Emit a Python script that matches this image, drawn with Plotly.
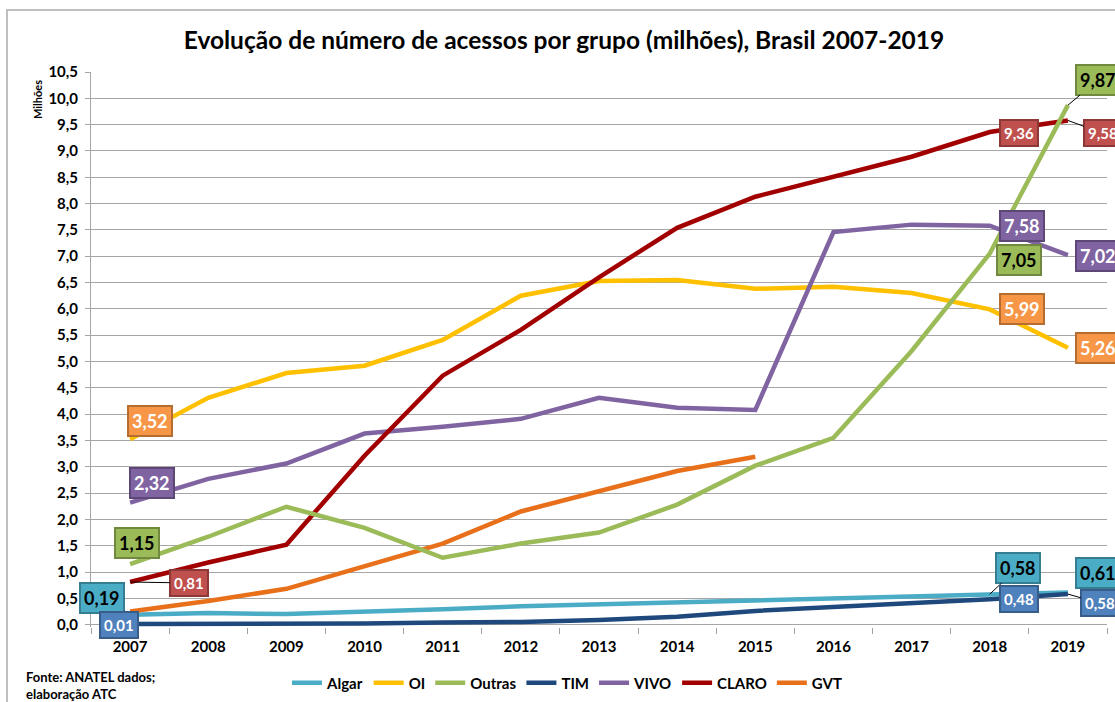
import plotly.graph_objects as go

years = [str(y) for y in range(2007, 2020)]
algar = [0.19, 0.22, 0.20, 0.24, 0.29, 0.35, 0.39, 0.42, 0.46, 0.50, 0.54, 0.58, 0.61]
oi = [3.52, 4.31, 4.78, 4.92, 5.41, 6.25, 6.53, 6.55, 6.38, 6.42, 6.30, 5.99, 5.26]
outras = [1.15, 1.67, 2.24, 1.84, 1.27, 1.54, 1.75, 2.28, 3.02, 3.55, 5.20, 7.05, 9.87]
tim = [0.01, 0.01, 0.01, 0.02, 0.04, 0.05, 0.09, 0.15, 0.26, 0.33, 0.42, 0.48, 0.58]
vivo = [2.32, 2.77, 3.06, 3.63, 3.76, 3.91, 4.31, 4.12, 4.08, 7.46, 7.60, 7.58, 7.02]
claro = [0.81, 1.18, 1.52, 3.21, 4.73, 5.60, 6.60, 7.54, 8.13, 8.52, 8.89, 9.36, 9.58]
gvt = [0.25, 0.45, 0.68, 1.10, 1.54, 2.15, 2.54, 2.92, 3.19, None, None, None, None]

series = {
    "Algar": (algar, "#4BACC6", 1),
    "OI": (oi, "#FFC000", 2),
    "Outras": (outras, "#9BBB59", 3),
    "TIM": (tim, "#1F497D", 4),
    "VIVO": (vivo, "#8064A2", 5),
    "CLARO": (claro, "#A20000", 6),
    "GVT": (gvt, "#E8701A", 7),
}
draw_order = ["Algar", "OI", "TIM", "VIVO", "CLARO", "GVT", "Outras"]

FONT = "Lato"

fig = go.Figure()
for name in draw_order:
    vals, col, rank = series[name]
    fig.add_trace(go.Scatter(
        x=years, y=vals, name=name, mode="lines",
        line=dict(color=col, width=4.5),
        legendrank=rank, connectgaps=False,
    ))

# label box styles
box = {
    "orange": ("#F79646", "#B66D31", "white"),
    "purple": ("#8064A2", "#5C4776", "white"),
    "green": ("#9BBB59", "#71893F", "black"),
    "red": ("#C0504D", "#8C3836", "white"),
    "teal": ("#4BACC6", "#357D91", "black"),
    "blue": ("#4F81BD", "#385D8A", "white"),
}

# (series, index, style, font size, arrow?, dx, dy)  dx,dy screen offsets (dy down)
labels = [
    ("OI", 0, "orange", 18, False, 20, -18),
    ("VIVO", 0, "purple", 18, False, 22, -20),
    ("Outras", 0, "green", 18, False, 7, -21),
    ("CLARO", 0, "red", 15, True, 59, 1),
    ("Algar", 0, "teal", 18, True, -28, -17),
    ("TIM", 0, "blue", 15, False, -11, 1),
    ("CLARO", 11, "red", 15, False, 29, 1),
    ("CLARO", 12, "red", 15, True, 35, 13),
    ("Outras", 12, "green", 18, True, 30, -25),
    ("VIVO", 11, "purple", 18, False, 32, 0),
    ("Outras", 11, "green", 18, False, 29, 6),
    ("VIVO", 12, "purple", 18, False, 30, 1),
    ("OI", 11, "orange", 18, False, 32, 0),
    ("OI", 12, "orange", 18, False, 30, 0),
    ("Algar", 11, "teal", 18, True, 28, -26),
    ("TIM", 11, "blue", 15, False, 29, 0),
    ("Algar", 12, "teal", 18, False, 30, -20),
    ("TIM", 12, "blue", 15, True, 32, 9),
]

annotations = []
for name, i, style, fs, arrow, dx, dy in labels:
    v = series[name][0][i]
    fill, border, tcol = box[style]
    txt = "<b>" + f"{v:.2f}".replace(".", ",") + "</b>"
    a = dict(
        x=i, y=v, xref="x", yref="y", text=txt,
        font=dict(family=FONT, size=fs, color=tcol),
        bgcolor=fill, bordercolor=border, borderwidth=2, borderpad=3,
    )
    if arrow:
        a.update(showarrow=True, arrowhead=0, arrowwidth=1, arrowcolor="black",
                 ax=dx, ay=dy, axref="pixel", ayref="pixel", standoff=0)
    else:
        a.update(showarrow=False, xshift=dx, yshift=-dy)
    annotations.append(a)

L, R, T, B = 91, 8, 72, 75
W, H = 1115, 702
pw, ph = W - L - R, H - T - B

def px2paper(px, py):
    return (px - L) / pw, (H - B - py) / ph

mx, my = px2paper(37, 100)
annotations.append(dict(
    text="<b>Milhões</b>", textangle=-90, x=mx, y=my,
    xref="paper", yref="paper", xanchor="center", yanchor="middle", showarrow=False,
    font=dict(family=FONT, size=11, color="black"),
))
fx, fy = px2paper(24, 685)
annotations.append(dict(
    text="<b>Fonte: ANATEL dados;<br>elaboração ATC</b>", x=fx, y=fy,
    xref="paper", yref="paper", xanchor="left", yanchor="middle", align="left", showarrow=False,
    font=dict(family=FONT, size=13, color="black"),
))

bx0, by0 = px2paper(7, 702)
bx1, by1 = px2paper(7, 10)
bx2, _ = px2paper(1115, 10)
shapes = [dict(type="path", xref="paper", yref="paper",
               path=f"M {bx0} {by0} L {bx1} {by1} L {bx2} {by1}",
               line=dict(color="#BFBFBF", width=2))]

lx, ly = px2paper(567, 683)
fig.update_layout(
    width=W, height=H,
    margin=dict(l=L, r=R, t=T, b=B, autoexpand=False),
    paper_bgcolor="white", plot_bgcolor="white",
    separators=",.",
    font=dict(family=FONT, color="black"),
    title=dict(text="<b>Evolução de número de acessos por grupo (milhões), Brasil 2007-2019</b>",
               x=564 / W, xanchor="center", y=1 - 40 / H, yanchor="middle",
               font=dict(family=FONT, size=24.5, color="black")),
    showlegend=True,
    legend=dict(orientation="h", x=lx, y=ly, xanchor="center", yanchor="middle",
                font=dict(family=FONT, size=15, color="black", weight="bold"),
                itemwidth=30, tracegroupgap=0, bgcolor="rgba(0,0,0,0)"),
    annotations=annotations,
    shapes=shapes,
)
fig.update_xaxes(
    type="category", range=[-0.5, 12.5], showgrid=False, showline=False, zeroline=False,
    ticks="outside", tickson="boundaries", ticklen=6, tickcolor="#A0A0A0",
    ticklabelstandoff=9,
    tickfont=dict(family=FONT, size=15, color="black", weight="bold"),
)
fig.update_yaxes(
    range=[-0.045, 10.5], tickvals=[i * 0.5 for i in range(22)], tickformat=".1f",
    showgrid=True, gridcolor="#A6A6A6", gridwidth=1, zeroline=False,
    showline=True, linecolor="#A6A6A6", linewidth=1,
    ticks="outside", ticklen=5, tickcolor="#A6A6A6", ticklabelstandoff=4,
    tickfont=dict(family=FONT, size=15, color="black", weight="bold"),
)

fig.write_html("out.html", config={"displayModeBar": False},
               post_script="document.body.style.margin='0';")
